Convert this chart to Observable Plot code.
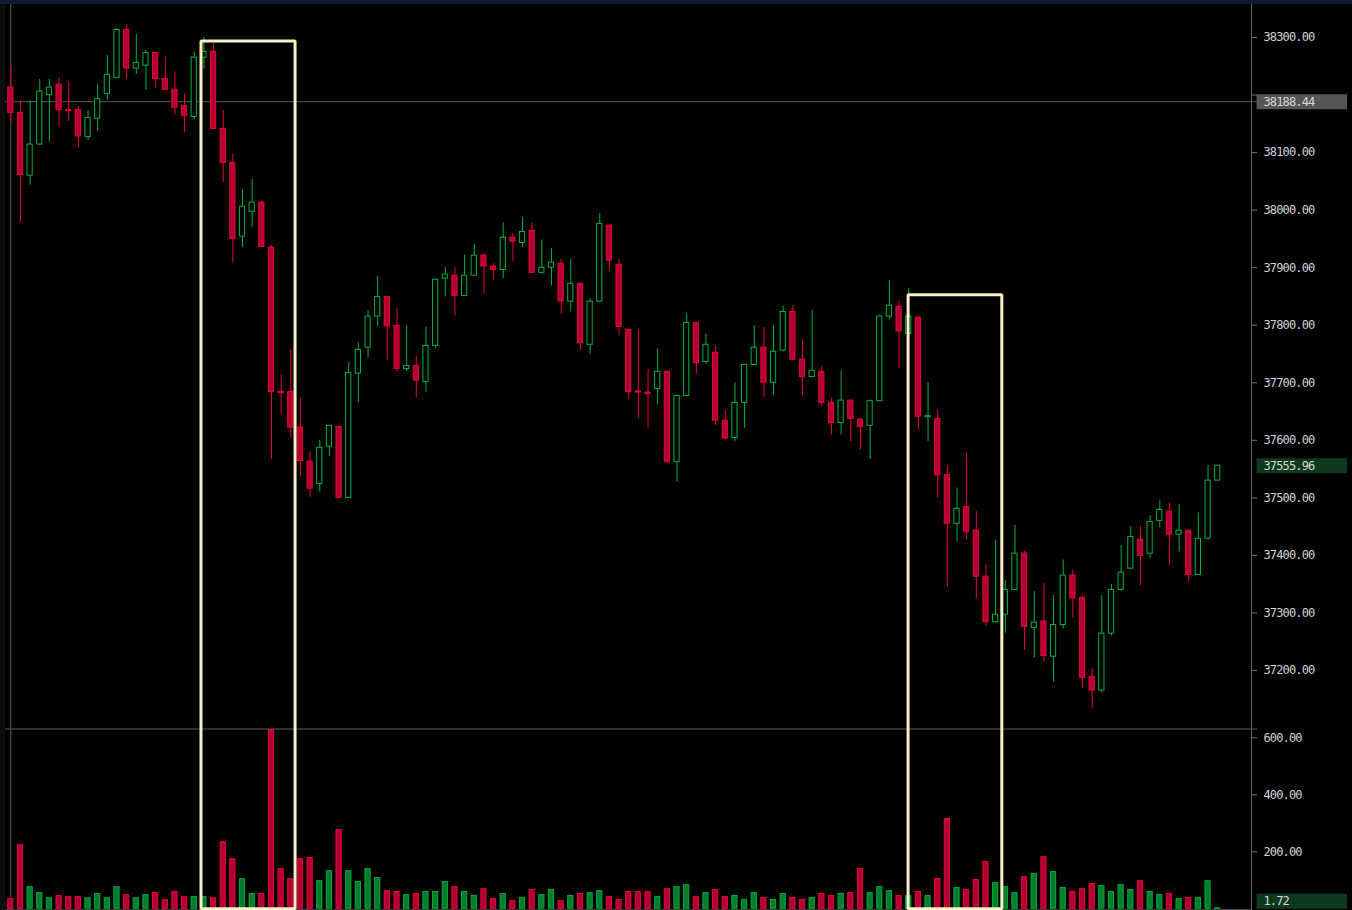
<!DOCTYPE html>
<html><head><meta charset="utf-8">
<script src="https://cdn.jsdelivr.net/npm/d3@7"></script>
<script src="https://cdn.jsdelivr.net/npm/@observablehq/plot@0.6"></script>
<style>
html,body{margin:0;padding:0;background:#000;}
#wrap{position:relative;width:1352px;height:910px;background:#000;overflow:hidden;}
#topband{position:absolute;left:0;top:0;width:1352px;height:4px;background:#111a33;}
#leftstrip{position:absolute;left:0;top:0;width:5px;height:910px;background:#0d0d0d;}
#price{position:absolute;left:0;top:0;}
#vol{position:absolute;left:0;top:728px;}
</style></head>
<body><div id="wrap"><div id="leftstrip"></div><div id="price"></div><div id="vol"></div><div id="topband"></div></div>
<script>
const opens  = [38213,38169,38060,38114,38200,38218,38174,38174,38127,38159,38202,38230,38313,38246,38251,38273,38228,38209,38181,38162,38265,38275,38141,38082,37954,37997,38013,37935,37684,37684,37622,37563,37524,37589,37623,37500,37716,37761,37815,37849,37799,37724,37729,37701,37764,37881,37886,37851,37886,37921,37902,37896,37952,37943,37964,37891,37900,37907,37841,37872,37766,37841,37973,37905,37792,37685,37683,37689,37719,37562,37677,37804,37736,37752,37634,37604,37665,37731,37761,37700,37756,37823,37740,37710,37719,37665,37630,37669,37636,37625,37668,37815,37832,37785,37813,37640,37637,37540,37455,37484,37443,37363,37284,37297,37340,37403,37274,37285,37224,37279,37365,37326,37189,37165,37264,37340,37377,37427,37403,37460,37476,37436,37443,37366,37429,37530];
const highs  = [38250,38189,38190,38227,38227,38230,38222,38180,38173,38219,38269,38316,38323,38305,38277,38274,38266,38240,38202,38275,38300,38292,38173,38097,38035,38053,38016,37938,37714,37758,37673,37580,37600,37626,37624,37735,37769,37825,37885,37850,37829,37799,37746,37797,37880,37900,37900,37922,37940,37924,37907,37978,37959,37987,37978,37948,37933,37915,37915,37873,37846,37994,37975,37914,37793,37792,37723,37759,37720,37679,37820,37805,37785,37763,37652,37700,37732,37799,37796,37799,37833,37834,37775,37826,37728,37673,37721,37670,37637,37670,37818,37878,37842,37864,37815,37700,37653,37556,37517,37578,37476,37384,37427,37356,37452,37407,37337,37351,37330,37392,37375,37330,37203,37330,37349,37417,37450,37450,37469,37495,37491,37488,37444,37474,37556,37556];
const lows   = [38152,37979,38043,38112,38118,38144,38154,38108,38121,38137,38191,38229,38227,38236,38208,38212,38208,38165,38134,38157,38245,38140,38048,37908,37936,37970,37935,37567,37645,37605,37536,37501,37510,37572,37499,37499,37666,37744,37798,37739,37718,37720,37675,37684,37760,37849,37816,37850,37885,37854,37877,37881,37910,37935,37890,37889,37868,37819,37823,37756,37749,37840,37895,37782,37671,37638,37621,37661,37560,37527,37676,37715,37732,37626,37601,37598,37621,37729,37675,37678,37754,37739,37678,37709,37659,37609,37609,37598,37583,37567,37667,37809,37724,37784,37619,37598,37499,37345,37423,37427,37324,37277,37282,37265,37339,37235,37221,37214,37180,37272,37291,37168,37133,37161,37260,37337,37375,37347,37394,37448,37382,37406,37354,37365,37427,37529];
const closes = [38169,38061,38114,38206,38213,38174,38172,38128,38160,38193,38235,38313,38246,38256,38273,38228,38209,38178,38164,38265,38275,38141,38082,37950,38006,38013,37936,37684,37682,37622,37564,37516,37587,37625,37500,37717,37757,37815,37849,37798,37724,37729,37704,37764,37879,37888,37851,37886,37921,37902,37896,37952,37945,37962,37891,37900,37909,37841,37872,37769,37841,37976,37912,37797,37684,37683,37680,37719,37562,37677,37804,37734,37766,37634,37603,37665,37731,37761,37700,37754,37823,37740,37710,37721,37665,37630,37669,37637,37623,37668,37815,37834,37789,37815,37641,37642,37539,37455,37481,37441,37363,37284,37297,37340,37403,37276,37283,37225,37279,37365,37325,37187,37165,37264,37340,37370,37432,37399,37458,37479,37436,37443,37366,37429,37530,37555.96];
const volumes= [34,223,76,55,37,45,41,41,37,52,37,76,48,37,48,55,30,59,41,41,41,37,234,174,104,52,52,627,139,104,174,178,97,132,276,132,94,139,108,62,59,48,52,59,59,94,76,59,45,69,34,52,27,38,66,48,66,27,45,52,55,62,41,31,59,59,59,41,69,76,83,41,55,66,41,45,31,55,38,31,52,38,31,38,52,45,52,55,139,55,76,62,45,45,59,45,104,315,73,66,101,164,90,76,55,111,122,181,129,73,59,69,87,80,59,83,66,97,59,48,52,34,38,38,97,1.72];
const priceTicks = [37200,37300,37400,37500,37600,37700,37800,37900,38000,38100,38200,38300];
const volumeTicks = [200,400,600];
const crossPrice = 38188.44;
const crossIndex = 0;
const lastPrice = 37555.96;
const lastVolume = 1.72;
// highlighted ranges: [first index edge, last index edge, top price]
const boxStart = [19.70, 92.93];
const boxEnd   = [29.44, 102.64];
const boxTop   = [38294, 37853];

const data = opens.map((o, i) => ({i, o, h: highs[i], l: lows[i], c: closes[i], v: volumes[i], up: closes[i] >= o}));

const W = 1352, axisW = 101;
const xDomain = [-1.0668, 128.50];
const pxPerIdx = (W - axisW) / (xDomain[1] - xDomain[0]);
const xAt = px => xDomain[0] + px / pxPerIdx;
const bw = 0.27;

const RED_F = "#b3002e", RED_S = "#e8003c", GRN_S = "#00b03e", GRN_F = "#007d2c", GRN_VS = "#00a83c";
const GRID = "#5a5a5a";
const fontStyle = {background: "transparent", color: "#d2d2d2", fontFamily: "'DejaVu Sans Mono', monospace", fontSize: "12px", letterSpacing: "-0.85px"};
const fmt = d3.format(".2f");
// tick labels that sit under a price marker are hidden (as in the reference)
const priceTickFmt = t => (Math.abs(t - crossPrice) < 20 || Math.abs(t - lastPrice) < 20) ? "" : fmt(t);

const yPrice = [37099.2, 38364.3];
const price = Plot.plot({
  width: W, height: 728, marginLeft: 0, marginRight: axisW, marginTop: 0, marginBottom: 0,
  style: fontStyle,
  x: {domain: xDomain, axis: null},
  y: {domain: yPrice, axis: null},
  color: {type: "identity"},
  marks: [
    Plot.ruleY([crossPrice], {x1: xAt(5), x2: xAt(1257), stroke: GRID, strokeWidth: 1}),
    Plot.ruleX([crossIndex], {stroke: GRID, strokeWidth: 1}),
    Plot.ruleX([xDomain[1]], {stroke: "#666", strokeWidth: 1}),
    Plot.ruleX(data, {x: "i", y1: "l", y2: "h", stroke: d => d.up ? GRN_S : RED_S, strokeWidth: 1}),
    Plot.rect(data, {x1: d => d.i - bw, x2: d => d.i + bw, y1: d => Math.min(d.o, d.c), y2: d => Math.max(d.o, d.c),
      fill: d => d.up ? "#000" : RED_F, stroke: d => d.up ? GRN_S : RED_S, strokeWidth: 1}),
    ...boxStart.map((s, k) => Plot.line([[s, yPrice[0]], [s, boxTop[k]], [boxEnd[k], boxTop[k]], [boxEnd[k], yPrice[0]]],
      {stroke: "#fbf0c6", strokeWidth: 3, strokeLinejoin: "miter"})),
    Plot.axisY({anchor: "right", ticks: priceTicks, tickFormat: priceTickFmt, tickSize: 5, tickPadding: 7, stroke: "#6f6f6f", fill: "#d2d2d2", label: null}),
    Plot.ruleY([crossPrice], {x1: xAt(1256.5), x2: xAt(1347), stroke: "#555", strokeWidth: 15}),
    Plot.text([crossPrice], {x: xAt(1263), y: d => d, text: d => fmt(d), textAnchor: "start", fill: "#d6d6d6"}),
    Plot.ruleY([lastPrice], {x1: xAt(1256.5), x2: xAt(1347), stroke: "#0d3a1d", strokeWidth: 15}),
    Plot.text([lastPrice], {x: xAt(1263), y: d => d, text: d => fmt(d), textAnchor: "start", fill: "#d6d6d6"})
  ]
});
document.getElementById("price").appendChild(price);

const yVol = [-6.0, 632.6];
const vol = Plot.plot({
  width: W, height: 182, marginLeft: 0, marginRight: axisW, marginTop: 0, marginBottom: 0,
  style: fontStyle,
  x: {domain: xDomain, axis: null},
  y: {domain: yVol, axis: null},
  color: {type: "identity"},
  marks: [
    Plot.ruleY([yVol[1]], {x1: xAt(5), x2: xAt(1257), stroke: GRID, strokeWidth: 1, dy: 0.5}),
    Plot.ruleY([0], {x1: xAt(5), x2: xDomain[1], stroke: "#555", strokeWidth: 1, dy: 1}),
    Plot.ruleX([crossIndex], {stroke: GRID, strokeWidth: 1}),
    Plot.ruleX([xDomain[1]], {stroke: "#666", strokeWidth: 1}),
    Plot.rect(data, {x1: d => d.i - bw, x2: d => d.i + bw, y1: 0, y2: "v",
      fill: d => d.up ? GRN_F : RED_F, stroke: d => d.up ? GRN_VS : RED_S, strokeWidth: 1}),
    ...boxStart.map((s, k) => Plot.line([[s, yVol[1]], [s, 0], [boxEnd[k], 0], [boxEnd[k], yVol[1]]],
      {stroke: "#fbf0c6", strokeWidth: 3, strokeLinejoin: "miter"})),
    Plot.axisY({anchor: "right", ticks: volumeTicks, tickFormat: fmt, tickSize: 5, tickPadding: 7, stroke: "#6f6f6f", fill: "#d2d2d2", label: null}),
    Plot.ruleY([lastVolume], {x1: xAt(1256.5), x2: xAt(1347), stroke: "#0d3a1d", strokeWidth: 15, dy: -7}),
    Plot.text([lastVolume], {x: xAt(1263), y: d => d, text: d => fmt(d), textAnchor: "start", fill: "#d6d6d6", dy: -7})
  ]
});
document.getElementById("vol").appendChild(vol);
</script>
</body></html>
